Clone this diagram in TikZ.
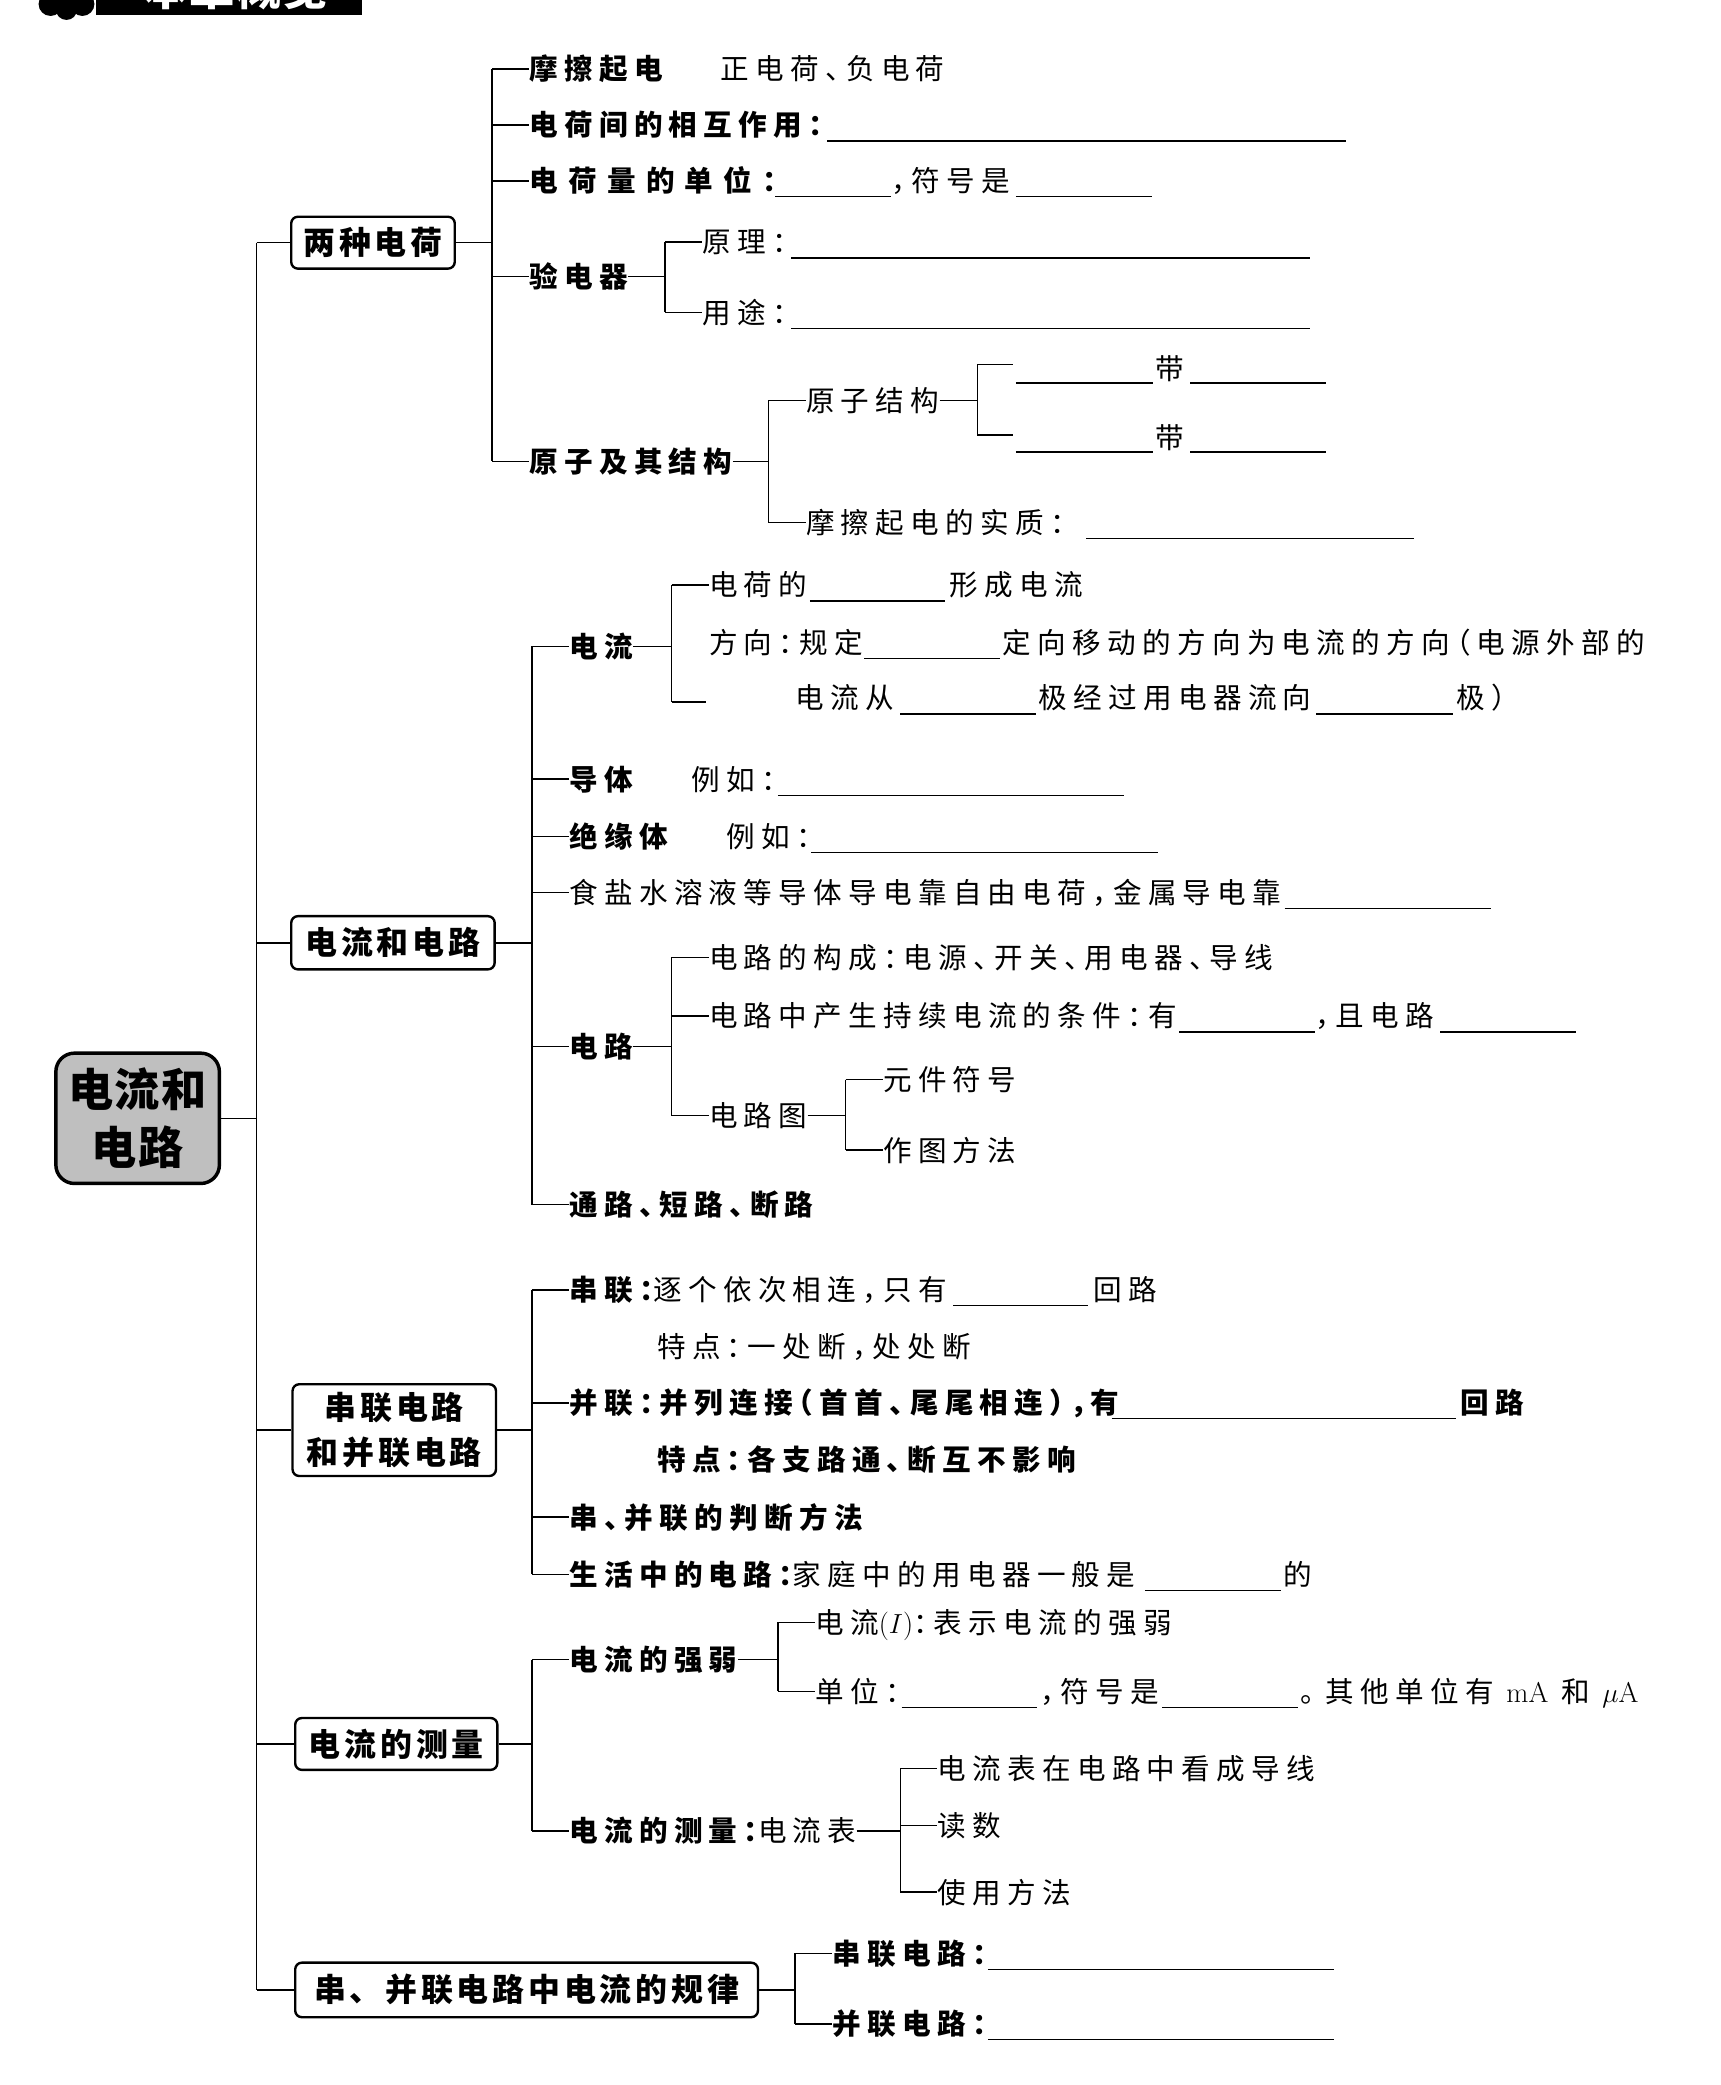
\documentclass[tikz,border=0pt]{standalone}
\usepackage{fontspec}
\newfontfamily\cjk{Noto Sans CJK SC}[LetterSpace=22, RawFeature={+halt}]
\newfontfamily\cjkwide{Noto Sans CJK SC}[LetterSpace=36, RawFeature={+halt}]
\newfontfamily\cjkbox{Noto Sans CJK SC}[LetterSpace=12]
\newfontfamily\cjkroot{Noto Sans CJK SC}[LetterSpace=2]
\newcommand\blankline[3]{\draw[blk] (#1,#3) -- (#2,#3);}
\begin{document}
\begin{tikzpicture}[x=1pt,y=-1pt,
  tx/.style={inner sep=0pt, anchor=west, font=\cjk\fontsize{21.5}{26}\selectfont, text height=18.9pt, text depth=2.6pt},
  bt/.style={tx, font=\cjk\bfseries\fontsize{21.5}{26}\selectfont},
  lvl/.style={draw, line width=1.8pt, rounded corners=5pt, fill=white, inner sep=0pt, align=center, font=\cjkbox\bfseries\fontsize{24}{34}\selectfont},
  rootbox/.style={draw, line width=2.6pt, rounded corners=14pt, fill=black!25, inner sep=0pt, align=center, font=\cjkroot\bfseries\fontsize{34}{44}\selectfont},
  conn/.style={line width=1.1pt},
  blk/.style={line width=1pt}]
\useasboundingbox (0,0) rectangle (1294,1568);
\fill[white] (0,0) rectangle (1294,1568);
% banner (cut off at top, as in the page it was taken from)
\begin{scope}
\clip (0,0) rectangle (1294,1568);
\fill[black] (72,-10) rectangle (272,11);
\fill[black] (38,3) circle (9);
\fill[black] (50,7) circle (8);
\fill[black] (62,3) circle (9);
\fill[black] (45,-2) circle (9);
\node[text=white, font=\cjkroot\bfseries\fontsize{34}{40}\selectfont, inner sep=0pt, anchor=base west] (banner) at (108,4) {本章概览};
\end{scope}
% root
\node[rootbox, minimum width=123pt, minimum height=98pt] (root) at (103.5,841) {电流和\\电路};
% level 1
\node[lvl, minimum width=123pt, minimum height=39pt] (L1a) at (280.5,182.5) {两种电荷};
\node[lvl, minimum width=153pt, minimum height=40pt] (L1b) at (295.5,709) {电流和电路};
\node[lvl, minimum width=153pt, minimum height=69pt] (L1c) at (296.5,1075.5) {串联电路\\和并联电路};
\node[lvl, minimum width=152pt, minimum height=39pt] (L1d) at (298,1311.5) {电流的测量};
\node[lvl, minimum width=348pt, minimum height=41pt] (L1e) at (396,1496.5) {串、并联电路中电流的规律};
\coordinate (trunk) at (193,0);
\draw[conn] (root.east) -- (root.east -| trunk);
\draw[conn] (trunk |- L1a.west) -- (trunk |- L1e.west);
\foreach \n in {L1a,L1b,L1c,L1d,L1e}{\draw[conn] (trunk |- \n.west) -- (\n.west);}
% ---------- group A
\node[bt] (a1) at (398,52) {摩擦起电};
\node[tx] (a1t) at (542,52) {正电荷、负电荷};
\node[bt] (a2) at (398,94) {电荷间的相互作用：};
\blankline{622}{1012}{106}
\node[bt, font=\cjkwide\bfseries\fontsize{21.5}{26}\selectfont] (a3) at (398,136) {电荷量的单位：};
\blankline{583}{670}{148}
\node[tx] (a3t) at (670,136) {，符号是};
\blankline{764}{866}{148}
\node[bt] (a4) at (398,208) {验电器};
\node[tx] (a4a) at (528,182) {原理：};
\blankline{595}{985}{194}
\node[tx] (a4b) at (528,235) {用途：};
\blankline{595}{985}{247}
\node[bt] (a5) at (398,347) {原子及其结构};
\node[tx] (a5a) at (606,301) {原子结构};
\coordinate (a5a1) at (762,274);
\coordinate (a5a2) at (762,327);
\blankline{764}{867}{288}
\node[tx] (dai1) at (869,277) {带};
\blankline{895}{997}{288}
\blankline{764}{867}{340}
\node[tx] (dai2) at (869,329) {带};
\blankline{895}{997}{340}
\node[tx] (a5b) at (606,393) {摩擦起电的实质：};
\blankline{817}{1063}{405}
\coordinate (bA) at (370,0);
\coordinate (bA4) at (500,0);
\coordinate (bA5) at (578,0);
\coordinate (bA5a) at (735,0);
\draw[conn] (L1a.east) -- (L1a.east -| bA);
\draw[conn] (bA |- a1.west) -- (bA |- a5.west);
\foreach \n in {a1,a2,a3,a4,a5}{\draw[conn] (bA |- \n.west) -- (\n.west);}
\draw[conn] (a4.east) -- (a4.east -| bA4);
\draw[conn] (bA4 |- a4a.west) -- (bA4 |- a4b.west);
\foreach \n in {a4a,a4b}{\draw[conn] (bA4 |- \n.west) -- (\n.west);}
\draw[conn] (a5.east) -- (a5.east -| bA5);
\draw[conn] (bA5 |- a5a.west) -- (bA5 |- a5b.west);
\foreach \n in {a5a,a5b}{\draw[conn] (bA5 |- \n.west) -- (\n.west);}
\draw[conn] (a5a.east) -- (a5a.east -| bA5a);
\draw[conn] (bA5a |- a5a1) -- (bA5a |- a5a2);
\foreach \n in {a5a1,a5a2}{\draw[conn] (bA5a |- \n) -- (\n);}
% ---------- group B
\node[bt] (b1) at (428,486) {电流};
\node[tx] (b1a) at (533,440) {电荷的};
\blankline{609}{711}{452}
\node[tx] (b1at) at (714,440) {形成电流};
\node[tx] (b1b) at (533,483) {方向：规定};
\blankline{650}{752}{495}
\node[tx] (b1bt) at (754,483) {定向移动的方向为电流的方向（电源外部的};
\coordinate (b1c) at (531,528);
\node[tx] (b1d) at (598,525) {电流从};
\blankline{677}{779}{537}
\node[tx] (b1dt) at (781,525) {极经过用电器流向};
\blankline{990}{1093}{537}
\node[tx] (b1de) at (1095,525) {极）};
\node[bt] (b2) at (428,586) {导体};
\node[tx] (b2t) at (520,586) {例如：};
\blankline{585}{845}{598}
\node[bt] (b3) at (428,629) {绝缘体};
\node[tx] (b3t) at (546,629) {例如：};
\blankline{610}{871}{641}
\node[tx] (b4) at (428,671) {食盐水溶液等导体导电靠自由电荷，金属导电靠};
\blankline{966}{1121}{683}
\node[bt] (b5) at (428,787) {电路};
\node[tx] (b5a) at (533,720) {电路的构成：电源、开关、用电器、导线};
\node[tx] (b5b) at (533,764) {电路中产生持续电流的条件：有};
\blankline{887}{989}{776}
\node[tx] (b5bt) at (989,764) {，且电路};
\blankline{1083}{1185}{776}
\node[tx] (b5c) at (533,839) {电路图};
\node[tx] (b5c1) at (664,812) {元件符号};
\node[tx] (b5c2) at (664,865) {作图方法};
\node[bt] (b6) at (428,906) {通路、短路、断路};
\coordinate (bB) at (400,0);
\coordinate (bB1) at (505,0);
\coordinate (bB5c) at (636,0);
\draw[conn] (L1b.east) -- (L1b.east -| bB);
\draw[conn] (bB |- b1.west) -- (bB |- b6.west);
\foreach \n in {b1,b2,b3,b4,b5,b6}{\draw[conn] (bB |- \n.west) -- (\n.west);}
\draw[conn] (b1.east) -- (b1.east -| bB1);
\draw[conn] (bB1 |- b1a.west) -- (bB1 |- b1c);
\draw[conn] (bB1 |- b1a.west) -- (b1a.west);
\draw[conn] (bB1 |- b1c) -- (b1c);
\draw[conn] (b5.east) -- (b5.east -| bB1);
\draw[conn] (bB1 |- b5a.west) -- (bB1 |- b5c.west);
\foreach \n in {b5a,b5b,b5c}{\draw[conn] (bB1 |- \n.west) -- (\n.west);}
\draw[conn] (b5c.east) -- (b5c.east -| bB5c);
\draw[conn] (bB5c |- b5c1.west) -- (bB5c |- b5c2.west);
\foreach \n in {b5c1,b5c2}{\draw[conn] (bB5c |- \n.west) -- (\n.west);}
% ---------- group C
\node[tx] (c1) at (428,970) {{\bfseries 串联：}逐个依次相连，只有};
\blankline{717}{818}{982}
\node[tx] (c1t) at (822,970) {回路};
\node[tx] (c1b) at (494,1013) {特点：一处断，处处断};
\node[bt] (c2) at (428,1055) {并联：并列连接（首首、尾尾相连），有};
\blankline{836}{1095}{1067}
\node[bt] (c2t) at (1098,1055) {回路};
\node[bt] (c2b) at (494,1098) {特点：各支路通、断互不影响};
\node[bt] (c3) at (428,1141) {串、并联的判断方法};
\node[tx] (c4) at (428,1184) {{\bfseries 生活中的电路：}家庭中的用电器一般是};
\blankline{861}{963}{1196}
\node[tx] (c4t) at (965,1184) {的};
\coordinate (bC) at (400,0);
\draw[conn] (L1c.east) -- (L1c.east -| bC);
\draw[conn] (bC |- c1.west) -- (bC |- c4.west);
\foreach \n in {c1,c2,c3,c4}{\draw[conn] (bC |- \n.west) -- (\n.west);}
% ---------- group D
\node[bt] (d1) at (428,1248) {电流的强弱};
\node[tx] (d1a) at (613,1220) {电流{\rmfamily(}$I${\rmfamily)}：表示电流的强弱};
\node[tx] (d1b) at (613,1272) {单位：};
\blankline{678}{780}{1284}
\node[tx] (d1bt) at (782,1272) {，符号是};
\blankline{874}{976}{1284}
\node[tx] (d1be) at (978,1272) {。\hspace{8pt}其他单位有 {\rmfamily mA} 和 $\mu${\rmfamily A}};
\node[tx] (d2) at (428,1377) {{\bfseries 电流的测量：}电流表};
\node[tx] (d2a) at (705,1330) {电流表在电路中看成导线};
\node[tx] (d2b) at (705,1373) {读数};
\node[tx] (d2c) at (705,1423) {使用方法};
\coordinate (bD) at (400,0);
\coordinate (bD1) at (585,0);
\coordinate (bD2) at (677,0);
\draw[conn] (L1d.east) -- (L1d.east -| bD);
\draw[conn] (bD |- d1.west) -- (bD |- d2.west);
\foreach \n in {d1,d2}{\draw[conn] (bD |- \n.west) -- (\n.west);}
\draw[conn] (d1.east) -- (d1.east -| bD1);
\draw[conn] (bD1 |- d1a.west) -- (bD1 |- d1b.west);
\foreach \n in {d1a,d1b}{\draw[conn] (bD1 |- \n.west) -- (\n.west);}
\draw[conn] (d2.east) -- (d2.east -| bD2);
\draw[conn] (bD2 |- d2a.west) -- (bD2 |- d2c.west);
\foreach \n in {d2a,d2b,d2c}{\draw[conn] (bD2 |- \n.west) -- (\n.west);}
% ---------- group E
\node[bt] (e1) at (626,1469) {串联电路：};
\blankline{743}{1003}{1481}
\node[bt] (e2) at (626,1522) {并联电路：};
\blankline{743}{1003}{1534}
\coordinate (bE) at (598,0);
\draw[conn] (L1e.east) -- (L1e.east -| bE);
\draw[conn] (bE |- e1.west) -- (bE |- e2.west);
\foreach \n in {e1,e2}{\draw[conn] (bE |- \n.west) -- (\n.west);}
\end{tikzpicture}
\end{document}
